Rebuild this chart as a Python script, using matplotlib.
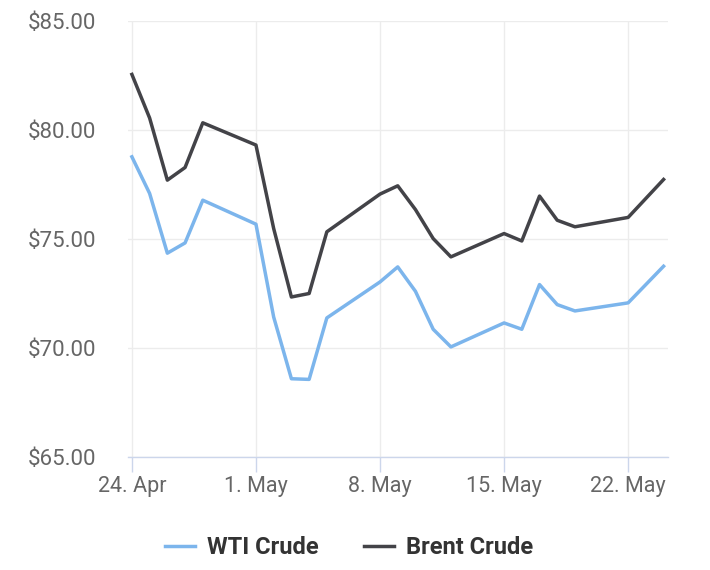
import numpy as np
import matplotlib
matplotlib.use('Agg')
import matplotlib.pyplot as plt
import matplotlib.dates as mdates

plt.rcParams['font.family'] = ['Roboto', 'DejaVu Sans']

# daily closes (2023)
dates = ['2023-04-24', '2023-04-25', '2023-04-26', '2023-04-27', '2023-04-28',
         '2023-05-01', '2023-05-02', '2023-05-03', '2023-05-04', '2023-05-05',
         '2023-05-08', '2023-05-09', '2023-05-10', '2023-05-11', '2023-05-12',
         '2023-05-15', '2023-05-16', '2023-05-17', '2023-05-18', '2023-05-19',
         '2023-05-22', '2023-05-24']
wti   = [78.77, 77.09, 74.35, 74.82, 76.78, 75.68, 71.42, 68.59, 68.56, 71.38,
         73.03, 73.72, 72.60, 70.86, 70.05, 71.15, 70.86, 72.91, 71.99, 71.70,
         72.07, 73.75]
brent = [82.55, 80.55, 77.70, 78.28, 80.33, 79.31, 75.48, 72.34, 72.50, 75.33,
         77.06, 77.44, 76.35, 75.02, 74.18, 75.25, 74.91, 76.97, 75.86, 75.56,
         75.99, 77.73]

tick_dates  = ['2023-04-24', '2023-05-01', '2023-05-08', '2023-05-15', '2023-05-22']
tick_labels = ['24. Apr', '1. May', '8. May', '15. May', '22. May']
y_ticks = [65, 70, 75, 80, 85]

x = mdates.datestr2num(dates)
xt = mdates.datestr2num(tick_dates)

fig = plt.figure(figsize=(7.1, 5.7), dpi=100)
ax = fig.add_axes([128/710, 1 - 457/570, 540/710, 436/570])

ax.plot(x, wti, color='#7cb5ec', lw=2.5, label='WTI Crude', solid_joinstyle='round')
ax.plot(x, brent, color='#434348', lw=2.5, label='Brent Crude', solid_joinstyle='round')

ax.set_xlim(x[0] - 0.22, x[-1] + 0.25)
ax.set_ylim(65, 85)

ax.set_xticks(xt)
ax.set_xticklabels(tick_labels)
ax.set_yticks(y_ticks)
ax.set_yticklabels(['$%.2f' % v for v in y_ticks])

ax.grid(True, color='#ececec', lw=1)
ax.set_axisbelow(True)
for s in ['top', 'right', 'left']:
    ax.spines[s].set_visible(False)
ax.spines['bottom'].set_color('#ccd6eb')
ax.spines['bottom'].set_linewidth(1)

ax.tick_params(axis='x', length=11, width=1, color='#ccd6eb', labelsize=15.5,
               labelcolor='#666666', pad=3)
ax.tick_params(axis='y', length=0, labelsize=16, labelcolor='#666666', pad=23)

leg = fig.legend(loc='center', bbox_to_anchor=(349/710, 1 - 548/570), ncol=2,
                 frameon=False, handlelength=1.3, columnspacing=1.9,
                 handletextpad=0.5, prop={'weight': 'bold', 'size': 17})
for t in leg.get_texts():
    t.set_color('#333333')

fig.savefig('out.png', dpi=100)
